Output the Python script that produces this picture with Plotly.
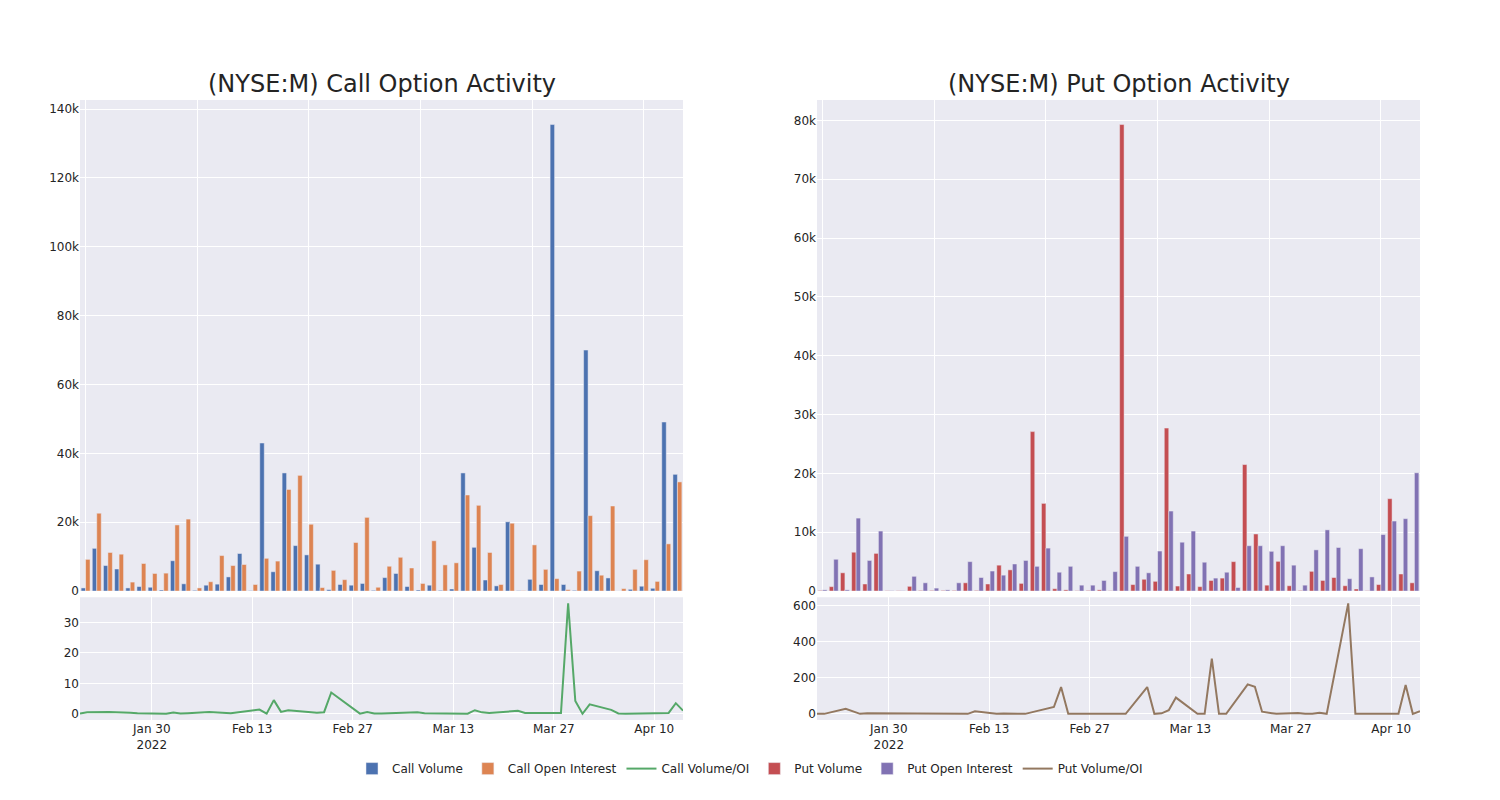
import plotly.graph_objects as go

# trading days shown in the chart (54 sessions)
dates = ['2022-01-20', '2022-01-21', '2022-01-24', '2022-01-26', '2022-01-27', '2022-01-28',
         '2022-01-31', '2022-02-01', '2022-02-02', '2022-02-03', '2022-02-04', '2022-02-07',
         '2022-02-10', '2022-02-11', '2022-02-14', '2022-02-15', '2022-02-16', '2022-02-17',
         '2022-02-18', '2022-02-22', '2022-02-23', '2022-02-24', '2022-02-28', '2022-03-01',
         '2022-03-02', '2022-03-03', '2022-03-04', '2022-03-07', '2022-03-08', '2022-03-09',
         '2022-03-10', '2022-03-11', '2022-03-14', '2022-03-15', '2022-03-16', '2022-03-17',
         '2022-03-18', '2022-03-21', '2022-03-22', '2022-03-23', '2022-03-25', '2022-03-28',
         '2022-03-29', '2022-03-30', '2022-03-31', '2022-04-01', '2022-04-04', '2022-04-05',
         '2022-04-06', '2022-04-07', '2022-04-11', '2022-04-12', '2022-04-13', '2022-04-14']

call_volume = [900, 12400, 7400, 6400, 900, 1300, 1100, 300, 8800, 2100,
               200, 1700, 2000, 4100, 10900, 100, 43000, 5600, 34300, 13200,
               10500, 7800, 400, 1900, 1700, 2200, 200, 3900, 5100, 1300,
               300, 1700, 200, 600, 34300, 12700, 3200, 1500, 20100, 100,
               3400, 1900, 135500, 1900, 200, 70000, 5900, 3800, 0, 500,
               1400, 800, 49100, 33900]
call_oi = [9200, 22600, 11200, 10700, 2600, 8000, 5100, 5200, 19200, 20900,
           900, 2700, 10300, 7400, 7700, 1900, 9500, 8700, 29500, 33600,
           19400, 1000, 6000, 3300, 14100, 21400, 1100, 7200, 9800, 6700,
           2200, 14600, 7600, 8200, 27900, 24900, 11200, 1900, 19700, 100,
           13400, 6300, 3600, 400, 5800, 21900, 4600, 24700, 700, 6300,
           9100, 2800, 13700, 31700]
call_ratio = [0.1, 0.55, 0.6, 0.55, 0.35, 0.2, 0.1, 0.05, 0.45, 0.1,
              0.2, 0.6, 0.2, 0.55, 1.4, 0.05, 4.5, 0.65, 1.15, 0.4,
              0.55, 7.0, 0.07, 0.6, 0.12, 0.1, 0.2, 0.5, 0.5, 0.2,
              0.15, 0.1, 0.03, 0.07, 1.2, 0.5, 0.3, 0.8, 1.0, 0.3,
              0.25, 0.3, 36.2, 4.2, 0.03, 3.1, 1.3, 0.15, 0.0, 0.08,
              0.15, 0.3, 3.5, 1.05]

put_volume = [100, 750, 3100, 6600, 1200, 6400, 50, 50, 800, 100,
              100, 100, 100, 1400, 100, 1200, 4400, 3600, 1300, 27100,
              14900, 400, 200, 50, 100, 200, 50, 79300, 1100, 2000,
              1650, 27700, 850, 2900, 750, 1800, 2200, 5000, 21500, 9700,
              1000, 5050, 900, 100, 3350, 1800, 2300, 900, 350, 50,
              1100, 15700, 2900, 1400]
put_oi = [200, 5400, 200, 12400, 5200, 10200, 50, 50, 2500, 1400,
          500, 200, 1400, 5000, 2300, 3400, 2700, 4600, 5200, 4200,
          7300, 3200, 4200, 1000, 1000, 1800, 3300, 9300, 4200, 3100,
          6800, 13600, 8300, 10200, 4900, 2200, 3200, 600, 7700, 7700,
          6750, 7700, 4400, 1000, 7000, 10400, 7400, 2100, 7200, 2400,
          9600, 11900, 12300, 20100]
put_ratio = [0, 0, 28, 0, 3, 3, 0, 0, 0, 0,
             0, 0, 0, 14, 0, 2, 3, 0, 0, 38,
             148, 0, 0, 0, 0, 0, 0, 148, 0, 3,
             20, 90, 0, 0, 305, 0, 0, 163, 150, 12,
             0, 5, 0, 0, 6, 0, 611, 0, 0, 0,
             0, 160, 0, 15]

fig = go.Figure()

fig.add_trace(go.Bar(x=dates, y=call_volume, name='Call Volume',
                     marker_color='#4C72B0', xaxis='x', yaxis='y'))
fig.add_trace(go.Bar(x=dates, y=call_oi, name='Call Open Interest',
                     marker_color='#DD8452', xaxis='x', yaxis='y'))
fig.add_trace(go.Scatter(x=dates, y=call_ratio, name='Call Volume/OI', mode='lines',
                         line=dict(color='#55A868', width=2), xaxis='x2', yaxis='y2'))
fig.add_trace(go.Bar(x=dates, y=put_volume, name='Put Volume',
                     marker_color='#C44E52', xaxis='x3', yaxis='y3'))
fig.add_trace(go.Bar(x=dates, y=put_oi, name='Put Open Interest',
                     marker_color='#8172B3', xaxis='x3', yaxis='y3'))
fig.add_trace(go.Scatter(x=dates, y=put_ratio, name='Put Volume/OI', mode='lines',
                         line=dict(color='#937860', width=2), xaxis='x4', yaxis='y4'))

top = [0.208, 1.0]
bottom = [0.0, 0.198]
left = [0.0, 0.45]
right = [0.55, 1.0]

fig.update_layout(
    template='seaborn',
    width=1500, height=800,
    font=dict(family='DejaVu Sans', size=12, color='rgb(36,36,36)'),
    margin=dict(l=72, r=88, t=92, b=88),
    barmode='group',
    xaxis=dict(domain=left, anchor='y', type='category', showticklabels=False,
               tick0=0, dtick=10, ticks=''),
    yaxis=dict(domain=top, anchor='x', ticks=''),
    xaxis2=dict(domain=left, anchor='y2', type='date', ticks=''),
    yaxis2=dict(domain=bottom, anchor='x2', ticks=''),
    xaxis3=dict(domain=right, anchor='y3', type='category', showticklabels=False,
                tick0=0, dtick=10, ticks=''),
    yaxis3=dict(domain=top, anchor='x3', ticks=''),
    xaxis4=dict(domain=right, anchor='y4', type='date', ticks=''),
    yaxis4=dict(domain=bottom, anchor='x4', ticks=''),
    legend=dict(orientation='h', x=0.5, xanchor='center', y=-0.055, yanchor='top',
                font=dict(size=12)),
    annotations=[
        dict(text='(NYSE:M) Call Option Activity', x=0.225, y=1.0, xref='paper', yref='paper',
             xanchor='center', yanchor='bottom', showarrow=False, font=dict(size=24)),
        dict(text='(NYSE:M) Put Option Activity', x=0.775, y=1.0, xref='paper', yref='paper',
             xanchor='center', yanchor='bottom', showarrow=False, font=dict(size=24)),
    ],
)

fig.write_html("out.html")
